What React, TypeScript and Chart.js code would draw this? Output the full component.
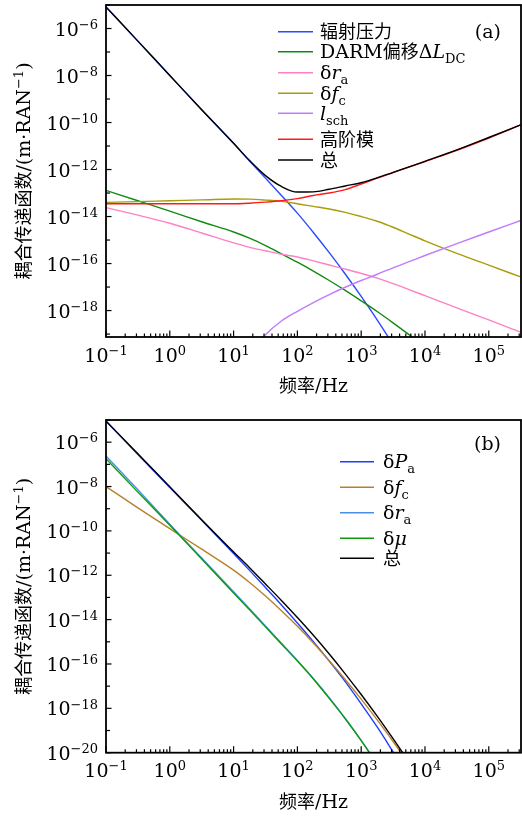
import React, { useEffect, useRef } from 'react';
import { Chart, registerables } from 'chart.js';

Chart.register(...registerables);

// ---------------- data ----------------
const freq = [0.1, 0.316, 1, 3.16, 10, 17.8, 31.6, 56.2, 100, 178, 316, 562, 1000, 1780, 3160, 5620, 10000, 31600, 100000, 316000];

// panel (a)
const radPressure = [8.3e-6, 2.9e-7, 1.0e-8, 3.5e-10, 1.3e-11, 2.3e-12, 4.3e-13, 7.9e-14, 1.4e-14, 2.1e-15, 2.9e-16, 3.6e-17, 4.0e-18, 4.0e-19, 3.5e-20, 2.5e-21, null, null, null, null];
const darmOffset = [1.3e-13, 4.7e-14, 1.7e-14, 6.0e-15, 2.2e-15, 1.2e-15, 5.8e-16, 2.6e-16, 1.15e-16, 4.8e-17, 1.9e-17, 7.2e-18, 2.6e-18, 9.1e-19, 3.0e-19, 9.5e-20, 2.9e-20, null, null, null];
const dRaA = [2.4e-14, 1.15e-14, 5.2e-15, 2.0e-15, 7.6e-16, 4.9e-16, 3.5e-16, 2.5e-16, 1.9e-16, 1.3e-16, 8.7e-17, 5.8e-17, 3.8e-17, 2.4e-17, 1.4e-17, 7.8e-18, 4.3e-18, 1.3e-18, 4.0e-19, 1.2e-19];
const dFcA = [4.0e-14, 4.3e-14, 4.7e-14, 5.1e-14, 5.6e-14, 5.5e-14, 5.0e-14, 4.4e-14, 3.5e-14, 2.7e-14, 2.1e-14, 1.5e-14, 1.0e-14, 6.3e-15, 3.5e-15, 1.8e-15, 9.3e-16, 2.7e-16, 8.5e-17, 2.7e-17];
const lSch = [null, null, null, null, null, 1.3e-20, 9.3e-20, 3.6e-19, 9.3e-19, 2.2e-18, 4.8e-18, 9.8e-18, 1.9e-17, 3.5e-17, 6.6e-17, 1.2e-16, 2.2e-16, 7.1e-16, 2.2e-15, 6.8e-15];
const higherModes = [3.5e-14, 3.5e-14, 3.5e-14, 3.5e-14, 3.5e-14, 3.7e-14, 4.1e-14, 4.7e-14, 5.8e-14, 7.9e-14, 1.0e-13, 1.4e-13, 2.4e-13, 4.3e-13, 7.4e-13, 1.26e-12, 2.2e-12, 6.6e-12, 2.2e-11, 7.9e-11];
const totalA = [8.3e-6, 2.9e-7, 1.0e-8, 3.5e-10, 1.3e-11, 2.4e-12, 5.5e-13, 1.9e-13, 1.1e-13, 1.12e-13, 1.45e-13, 2.0e-13, 2.75e-13, 4.4e-13, 7.6e-13, 1.3e-12, 2.24e-12, 6.8e-12, 2.3e-11, 7.9e-11];

// panel (b)
const dPaB = [8.7e-6, 2.8e-7, 9.1e-9, 3.0e-10, 9.5e-12, 1.66e-12, 2.8e-13, 4.6e-14, 7.1e-15, 1.02e-15, 1.35e-16, 1.6e-17, 1.6e-18, 1.45e-19, 1.1e-20, 8.0e-22, null, null, null, null];
const dFcB = [1.0e-8, 1.1e-9, 1.26e-10, 1.5e-11, 1.7e-12, 4.7e-13, 1.15e-13, 2.5e-14, 5.0e-15, 8.9e-16, 1.4e-16, 2.0e-17, 2.6e-18, 3.0e-19, 3.2e-20, 3.0e-21, null, null, null, null];
const dRaB = [2.4e-7, 7.1e-9, 2.0e-10, 6.0e-12, 1.8e-13, 3.1e-14, 5.2e-15, 8.7e-16, 1.45e-16, 2.2e-17, 3.0e-18, 3.5e-19, 3.6e-20, 3.2e-21, null, null, null, null, null, null];
const dMuB = [1.8e-7, 5.6e-9, 1.8e-10, 5.4e-12, 1.6e-13, 2.75e-14, 4.7e-15, 7.9e-16, 1.35e-16, 2.1e-17, 2.8e-18, 3.4e-19, 3.5e-20, 3.0e-21, null, null, null, null, null, null];
const totalB = [9.1e-6, 3.0e-7, 9.8e-9, 3.2e-10, 1.12e-11, 2.2e-12, 4.05e-13, 7.3e-14, 1.24e-14, 1.96e-15, 2.8e-16, 3.6e-17, 4.2e-18, 4.45e-19, 4.3e-20, 3.8e-21, null, null, null, null];

// tick labels (exponents of 10)
const xTickExps = [-1, 0, 1, 2, 3, 4, 5];
const yTickExpsA = [-6, -8, -10, -12, -14, -16, -18];
const yTickExpsB = [-6, -8, -10, -12, -14, -16, -18, -20];

type Kind = 'cjk' | 'rm' | 'it' | 'sub' | 'sup';
type Seg = [string, Kind];

const xTitle: Seg[] = [['频率', 'cjk'], ['/Hz', 'rm']];
const yTitle: Seg[] = [['耦合传递函数', 'cjk'], ['/(m·RAN', 'rm'], ['−1', 'sup'], [')', 'rm']];

const labelsA: Seg[][] = [
  [['辐射压力', 'cjk']],
  [['DARM', 'rm'], ['偏移', 'cjk'], ['Δ', 'rm'], ['L', 'it'], ['DC', 'sub']],
  [['δ', 'rm'], ['r', 'it'], ['a', 'sub']],
  [['δ', 'rm'], ['f', 'it'], ['c', 'sub']],
  [['l', 'it'], ['sch', 'sub']],
  [['高阶模', 'cjk']],
  [['总', 'cjk']],
];
const labelsB: Seg[][] = [
  [['δ', 'rm'], ['P', 'it'], ['a', 'sub']],
  [['δ', 'rm'], ['f', 'it'], ['c', 'sub']],
  [['δ', 'rm'], ['r', 'it'], ['a', 'sub']],
  [['δ', 'rm'], ['μ', 'it']],
  [['总', 'cjk']],
];

const seriesA = [radPressure, darmOffset, dRaA, dFcA, lSch, higherModes, totalA];
const colorsA = ['#2a4bff', '#118a11', '#ff80c4', '#a89c08', '#c07cff', '#ff1a1a', '#000000'];
const seriesB = [dPaB, dFcB, dRaB, dMuB, totalB];
const colorsB = ['#1f3dff', '#b8802c', '#4a8fe6', '#0f9a0f', '#000000'];

// ---------------- drawing helpers ----------------
const SERIF = "'DejaVu Serif', 'Liberation Serif', serif";
const CJK = "'Noto Sans CJK SC', 'Noto Sans CJK JP', sans-serif";

function fontFor(k: Kind, size: number) {
  switch (k) {
    case 'cjk': return `${size - 1}px ${CJK}`;
    case 'it': return `italic ${size}px ${SERIF}`;
    case 'sub':
    case 'sup': return `${Math.round(size * 0.68)}px ${SERIF}`;
    default: return `${size}px ${SERIF}`;
  }
}

function drawRich(ctx: CanvasRenderingContext2D, segs: Seg[], x: number, baseline: number, size: number, align: 'left' | 'center' | 'right') {
  let w = 0;
  for (const [t, k] of segs) { ctx.font = fontFor(k, size); w += ctx.measureText(t).width; }
  let cx = align === 'left' ? x : align === 'center' ? x - w / 2 : x - w;
  ctx.textAlign = 'left';
  ctx.textBaseline = 'alphabetic';
  for (const [t, k] of segs) {
    ctx.font = fontFor(k, size);
    const dy = k === 'sub' ? size * 0.27 : k === 'sup' ? -size * 0.36 : 0;
    ctx.fillText(t, cx, baseline + dy);
    cx += ctx.measureText(t).width;
  }
}

function expLabel(k: number): Seg[] {
  return [['10', 'rm'], [k < 0 ? '−' + Math.abs(k) : String(k), 'sup']];
}

const framePlugin = {
  id: 'frame',
  afterDatasetsDraw(chart: any, _args: any, opts: any) {
    const ctx: CanvasRenderingContext2D = chart.ctx;
    const a = chart.chartArea;
    const xs = chart.scales.x;
    const ys = chart.scales.y;
    const FS = 19;
    ctx.save();
    ctx.fillStyle = '#000';
    ctx.strokeStyle = '#000';
    ctx.lineWidth = 1.2;
    const seg = (x1: number, y1: number, x2: number, y2: number) => {
      ctx.beginPath(); ctx.moveTo(x1, y1); ctx.lineTo(x2, y2); ctx.stroke();
    };
    // y ticks: every decade, labelled ones longer
    const lo = Math.ceil(Math.log10(ys.min) - 1e-9);
    const hi = Math.floor(Math.log10(ys.max) + 1e-9);
    for (let k = lo; k <= hi; k++) {
      const py = ys.getPixelForValue(Math.pow(10, k));
      const labelled = opts.yTicks.includes(k);
      seg(a.left, py, a.left + (labelled ? 5.5 : 4), py);
      if (labelled) drawRich(ctx, expLabel(k), a.left - 8, py + 7, FS, 'right');
    }
    // x ticks
    for (let k = -1; k <= 5; k++) {
      for (let m = 1; m <= 9; m++) {
        const v = m * Math.pow(10, k);
        if (v < xs.min * 0.999 || v > xs.max * 1.001) continue;
        const px = xs.getPixelForValue(v);
        seg(px, a.bottom, px, a.bottom - (m === 1 ? 6.5 : 3.5));
      }
    }
    for (const k of opts.xTicks) {
      const px = xs.getPixelForValue(Math.pow(10, k));
      drawRich(ctx, expLabel(k), px, a.bottom + 24.5, FS, 'center');
    }
    // frame
    ctx.lineWidth = 1.8;
    ctx.strokeRect(a.left, a.top, a.right - a.left, a.bottom - a.top);
    // axis titles
    drawRich(ctx, xTitle, (a.left + a.right) / 2, a.bottom + 55, FS, 'center');
    ctx.save();
    ctx.translate(23, (a.top + a.bottom) / 2);
    ctx.rotate(-Math.PI / 2);
    drawRich(ctx, yTitle, 0, 7, FS, 'center');
    ctx.restore();
    // panel label
    ctx.font = `${FS}px ${SERIF}`;
    ctx.textAlign = 'right';
    ctx.textBaseline = 'alphabetic';
    ctx.fillText(opts.panel, a.right - 20, a.top + opts.panelDy);
    // legend
    const L = opts.legend;
    chart.data.datasets.forEach((ds: any, i: number) => {
      const y = a.top + L.rows[i];
      ctx.strokeStyle = ds.borderColor;
      ctx.lineWidth = 1.5;
      seg(L.x0, y, L.x0 + L.len, y);
      ctx.fillStyle = '#000';
      drawRich(ctx, L.labels[i], L.tx, y + 6.5, FS, 'left');
    });
    ctx.restore();
  },
};

function makeChart(canvas: HTMLCanvasElement, series: (number | null)[][], colors: string[], cfg: any) {
  const n = series.length;
  return new Chart(canvas, {
    type: 'line',
    data: {
      datasets: series.map((vals, i) => ({
        label: 'S' + i,
        data: freq.map((f, j) => ({ x: f, y: vals[j] })).filter((p) => p.y != null) as any,
        borderColor: colors[i],
        backgroundColor: colors[i],
        borderWidth: 1.4,
        pointRadius: 0,
        fill: false,
        cubicInterpolationMode: 'monotone',
        order: n - 1 - i,
      })),
    },
    options: {
      animation: false,
      responsive: false,
      events: [],
      layout: { padding: cfg.padding },
      scales: {
        x: { type: 'logarithmic', min: 0.1, max: 320000, display: false },
        y: { type: 'logarithmic', min: cfg.yMin, max: cfg.yMax, display: false },
      },
      plugins: {
        legend: { display: false },
        tooltip: { enabled: false },
        frame: cfg.frame,
      } as any,
    },
    plugins: [framePlugin],
  } as any);
}

export default function App() {
  const topRef = useRef<HTMLCanvasElement>(null);
  const botRef = useRef<HTMLCanvasElement>(null);

  useEffect(() => {
    const c1 = makeChart(topRef.current!, seriesA, colorsA, {
      padding: { left: 106, top: 5, right: 1, bottom: 71 },
      yMin: 7.5e-20,
      yMax: 1e-5,
      frame: {
        yTicks: yTickExpsA, xTicks: xTickExps, panel: '(a)', panelDy: 32.5,
        legend: { x0: 278, len: 35, tx: 320, rows: [26.7, 46.7, 67.7, 88.3, 108.3, 134.3, 155], labels: labelsA },
      },
    });
    const c2 = makeChart(botRef.current!, seriesB, colorsB, {
      padding: { left: 106, top: 12, right: 1, bottom: 64.3 },
      yMin: 1e-20,
      yMax: 1e-5,
      frame: {
        yTicks: yTickExpsB, xTicks: xTickExps, panel: '(b)', panelDy: 29.5,
        legend: { x0: 340, len: 34, tx: 383, rows: [41.7, 67.3, 92.7, 118.3, 138.3], labels: labelsB },
      },
    });
    return () => { c1.destroy(); c2.destroy(); };
  }, []);

  return (
    <div style={{ position: 'absolute', left: 0, top: 0, width: 522, height: 817, background: '#fff' }}>
      <canvas ref={topRef} width={522} height={408} style={{ display: 'block' }} />
      <canvas ref={botRef} width={522} height={409} style={{ display: 'block' }} />
    </div>
  );
}
